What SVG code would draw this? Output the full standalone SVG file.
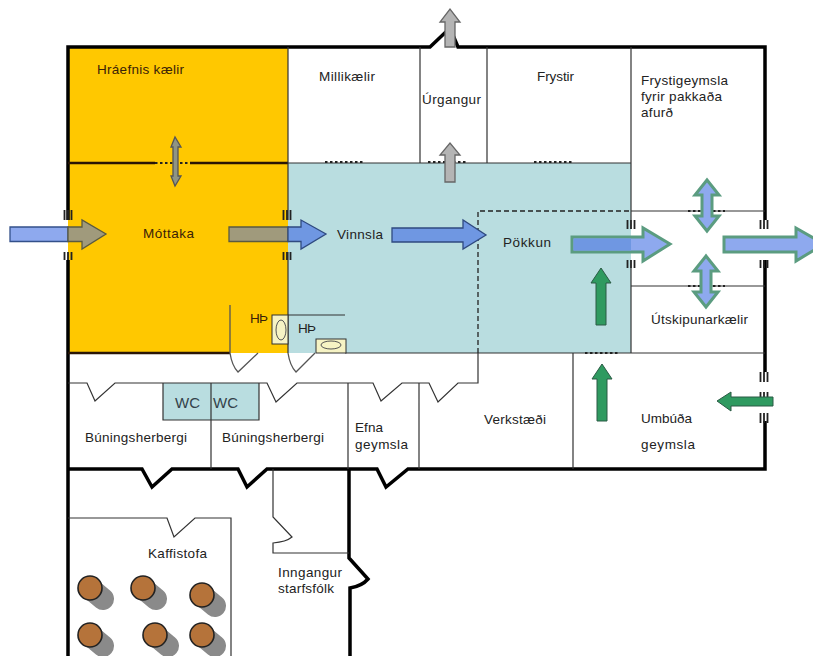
<svg xmlns="http://www.w3.org/2000/svg" width="813" height="656" viewBox="0 0 813 656">
<style>
text{font-family:"Liberation Sans",Arial,sans-serif;font-size:13.5px;fill:#222}
.o{fill:#3a2208}
.wc{font-size:15px;fill:#33424a}
.thin{fill:none;stroke:#333;stroke-width:1.2}
.thick{fill:none;stroke:#000;stroke-width:3.5}
.door{fill:none;stroke:#555;stroke-width:1.3}
.dot{fill:none;stroke:#222;stroke-width:2;stroke-dasharray:2.5 2.5}
.tick{fill:none;stroke:#222;stroke-width:1.8}
.blue{fill:#8ea9ee;stroke:#33508a;stroke-width:1.3}
.mid{fill:#6f97e2;stroke:#2f4a80;stroke-width:1.3}
.gb{fill:#8ea9ee;stroke:#5b9c80;stroke-width:3}
.grey{fill:#b4b4b4;stroke:#666;stroke-width:1.3}
.green{fill:#2f9a60;stroke:#2a5a44;stroke-width:1}
.table{fill:#b5733a;stroke:#222;stroke-width:1.6}
.shadow{fill:none;stroke:#8a8a8a;stroke-width:22;stroke-linecap:round}
</style>
<rect width="813" height="656" fill="#fff"/>
<g id="areas">
<rect x="68" y="47" width="220" height="306" fill="#ffc800"/>
<rect x="288" y="163" width="343" height="190" fill="#b9dde0"/>
<rect x="163" y="383" width="96" height="37" fill="#b9dde0"/>
<path d="M230 353H258L238 372Q232 366 230 353ZM288 353H315L296 372Q290 366 288 353Z" fill="#fff"/>
</g>
<g id="walls">
<path class="thick" d="M68 220V47H430L450 28L458 47H765V220M765 260V372M765 421V469H408L386 487L377 469H267L247 487L238 469H172L152 487L142 469H68M68 656V260"/>
<path class="thick" d="M349 469V558L368 579Q362 586 350 588V656"/>
<path class="thick" d="M68 353H230M68 163H155M190 163H288" style="stroke-width:2.500;stroke:#2a1505"/>
<path class="thin" d="M288 47V220M288 252V353M420 47V163M487 47V163M631 47V220M631 268V353M288 163H631M631 211H765M631 286H765M345 353H765M573 353V469M288 315H345"/>
<path class="door" d="M230 305V353Q232 366 238 372L258 353M288 353Q290 366 296 372L315 353"/>
<path class="thin" d="M68 383H87L95 401L115 383H267L276 402L297 383H373L381 401L402 383H429L438 402L458 383H478V353M348 383V469M419 383V469M211 383V469M163 383V420H259V383"/>
<path d="M478 353V211H631" fill="none" stroke="#222" stroke-width="1.300" stroke-dasharray="5 3"/>
<path class="thin" d="M273 469V517L292 537Q286 542 273 543V553H349"/>
<path class="thin" d="M68 518H167L174 537L195 518H231V656"/>
<path class="dot" d="M155 163H190M325 162H365M428 162H468M534 162H574M688 211H725M688 286H725M585 353H620"/>
<path class="tick" d="M64.500 210V220M68 210V220M71.500 210V220M64.500 230V242M68 230V242M71.500 230V242M64.500 252V260M68 252V260M71.500 252V260"/>
<path class="tick" d="M283.500 210V220M287 210V220M290.500 210V220M283.500 230V242M287 230V242M290.500 230V242M283.500 252V260M287 252V260M290.500 252V260"/>
<path class="tick" d="M627.500 220V229M631 220V229M634.500 220V229M627.500 240V249M631 240V249M634.500 240V249M627.500 260V268M631 260V268M634.500 260V268"/>
<path class="tick" d="M760.500 220V229M764 220V229M767.500 220V229M760.500 240V249M764 240V249M767.500 240V249M760.500 260V268M764 260V268M767.500 260V268"/>
<path class="tick" d="M760.500 372V382M764 372V382M767.500 372V382M760.500 392V397M764 392V397M767.500 392V397M760.500 413V423M764 413V423M767.500 413V423"/>
</g>
<g id="equipment">
<rect x="272" y="315" width="16" height="29" fill="#f6f3c4" stroke="#333"/>
<ellipse cx="281" cy="330" rx="5" ry="10" fill="none" stroke="#555"/>
<rect x="316" y="339" width="30" height="14" fill="#f6f3c4" stroke="#333"/>
<ellipse cx="331" cy="345" rx="10" ry="4" fill="none" stroke="#555"/>
</g>
<g id="tables">
<path class="shadow" d="M91 589L103 599M144 589L156 599M203 596L215 606M91 636L103 646M156 636L168 646M203 636L215 646"/>
<circle class="table" cx="90" cy="588" r="12"/>
<circle class="table" cx="143" cy="588" r="12"/>
<circle class="table" cx="202" cy="595" r="12"/>
<circle class="table" cx="90" cy="635" r="12"/>
<circle class="table" cx="155" cy="635" r="12"/>
<circle class="table" cx="202" cy="635" r="12"/>
</g>
<g id="connectors">
<path class="blue" d="M68 227H10V241.500H68Z"/>
<path d="M68 227H82V220L106 234L82 249V241.500H68Z" fill="#a09a7c" stroke="#5a5a40" stroke-width="1.300"/>
<path d="M288 227H229V241.500H288Z" fill="#a09a7c" stroke="#5a5a40" stroke-width="1.300"/>
<path class="mid" d="M288 227H301V220L326 234L301 249V241.500H288Z"/>
<path class="mid" d="M392 228H463V220L486 235L463 249V242H392Z"/>
<path class="gb" d="M572 237H643V228L670 244L643 261V252H572Z"/>
<path d="M573.500 238.500H631V250.500H573.500Z" fill="#6f97e2"/>
<path class="gb" d="M724 237H796V228L824 244L796 261V252H724Z"/>
<path class="gb" d="M702 195H695L707 180L719 195H712V216H719L707 231L695 216H702Z"/>
<path class="gb" d="M701 271H694L706 256L718 271H711V292H718L706 307L694 292H701Z"/>
<path class="green" d="M596 325V283H591L601 268L611 283H606V325Z"/>
<path class="green" d="M597 421V379H592L602 364L612 379H607V421Z"/>
<path class="green" d="M773 397H731V392L717 401L731 411V406H773Z"/>
<path class="grey" d="M445 47V22H440L450 9L460 22H455V47Z"/>
<path class="grey" d="M445 182V155H440L450 143L460 155H455V182Z"/>
<path d="M173 147H171L175 137L181 147H178V176H181L175 186L171 176H173Z" fill="#8f9484" stroke="#555" stroke-width="1.300"/>
</g>
<g id="labels">
<text class="o" x="97" y="74" textLength="87">Hráefnis kælir</text>
<text x="319" y="81" textLength="56">Millikælir</text>
<text x="422" y="104" textLength="59">Úrgangur</text>
<text x="537" y="81" textLength="37">Frystir</text>
<text x="641" y="85" textLength="87">Frystigeymsla</text>
<text x="641" y="101" textLength="81">fyrir pakkaða</text>
<text x="641" y="117" textLength="32">afurð</text>
<text class="o" x="143" y="238" textLength="51">Móttaka</text>
<text x="337" y="239" textLength="46">Vinnsla</text>
<text x="503" y="247" textLength="48">Pökkun</text>
<text x="651" y="324" textLength="97">Útskipunarkælir</text>
<text class="o" x="250" y="323" textLength="18">HÞ</text>
<text x="298" y="333" textLength="18">HÞ</text>
<text class="wc" x="175" y="408">WC</text>
<text class="wc" x="213" y="408">WC</text>
<text x="85" y="442" textLength="102">Búningsherbergi</text>
<text x="222" y="442" textLength="102">Búningsherbergi</text>
<text x="355" y="432" textLength="28">Efna</text>
<text x="355" y="449" textLength="53">geymsla</text>
<text x="484" y="424" textLength="62">Verkstæði</text>
<text x="641" y="423" textLength="51">Umbúða</text>
<text x="641" y="449" textLength="54">geymsla</text>
<text x="148" y="558" textLength="59">Kaffistofa</text>
<text x="278" y="577" textLength="64">Inngangur</text>
<text x="278" y="593" textLength="56">starfsfólk</text>
</g>
</svg>
